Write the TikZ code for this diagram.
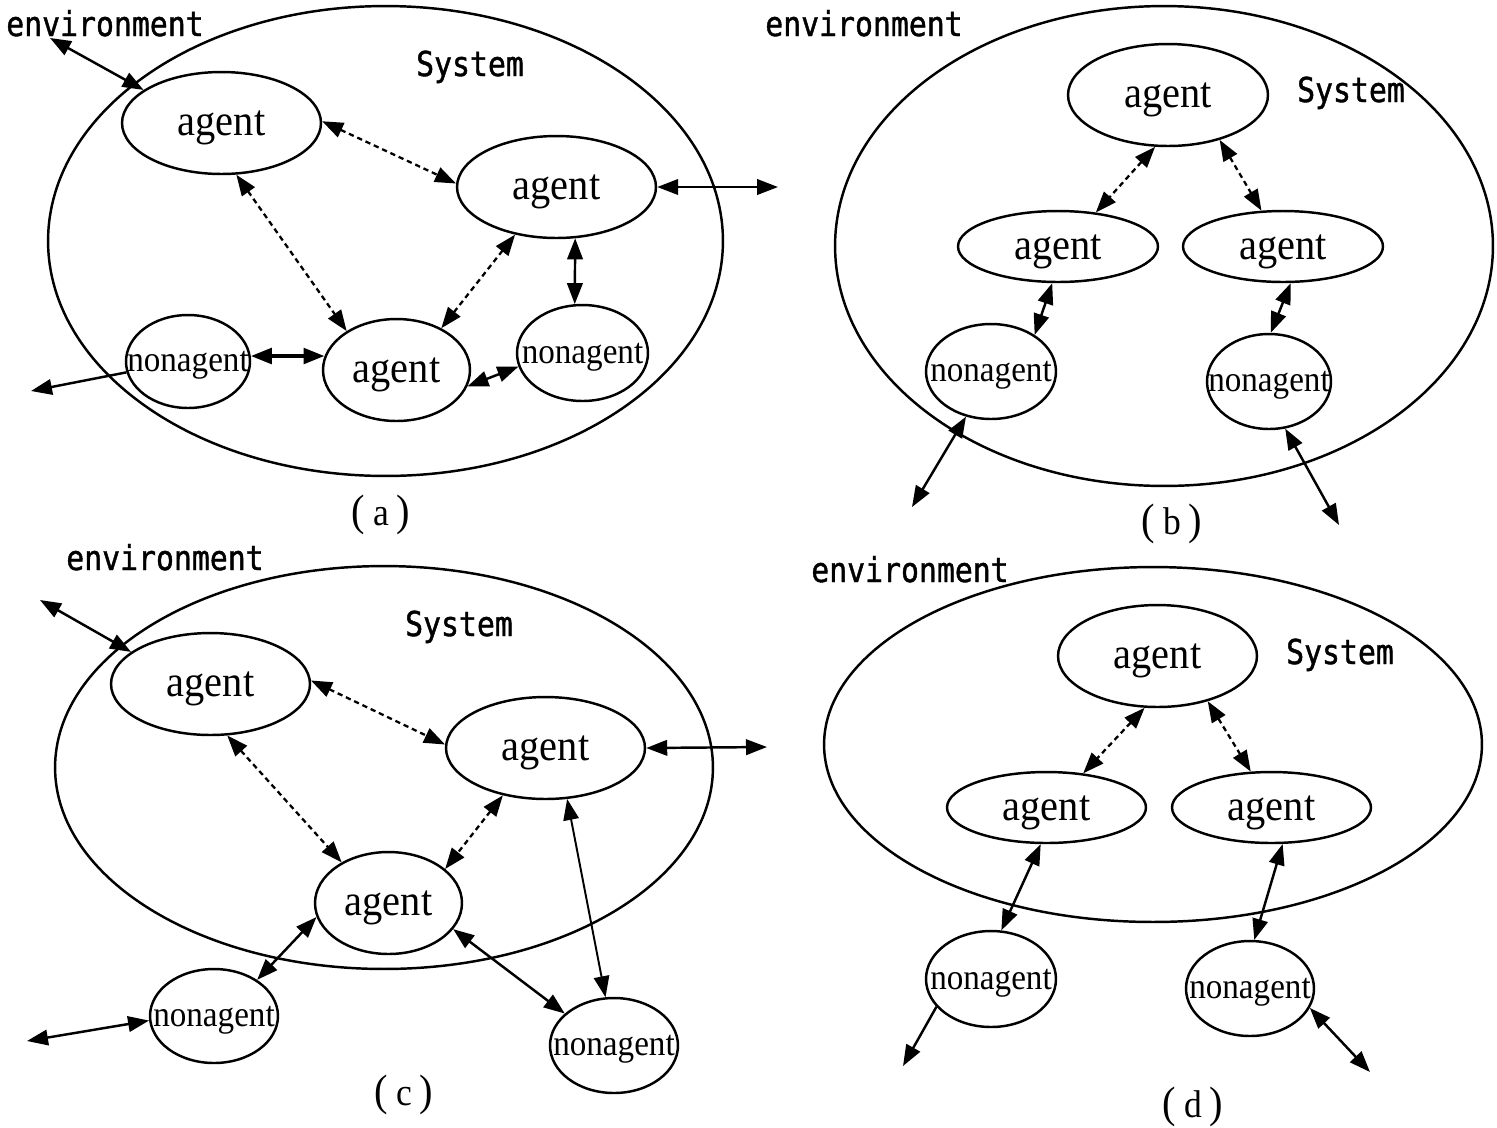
\documentclass[tikz,border=0pt]{standalone}
\usepackage{fontspec}
\usetikzlibrary{shapes.geometric,arrows.meta}
\newfontfamily\serifx[FakeStretch=0.92]{Liberation Serif}
\newfontfamily\monox[FakeStretch=0.87,FakeBold=1.2]{DejaVu Sans Mono}
\newcommand\agfont{\serifx\fontsize{25}{28}\selectfont}
\newcommand\nafont{\serifx\fontsize{20.5}{24}\selectfont}
\newcommand\envfont{\monox\fontsize{19.5}{23}\selectfont}
\newcommand\capfont{\serifx\fontsize{22}{26}\selectfont}
\newcommand\zw[1]{\makebox[0pt]{\raisebox{-0.29em}[0pt][0pt]{#1}}}
\newcommand\capl[1]{{\fontsize{25}{28}\selectfont(}\hspace{0.2em}#1\hspace{0.2em}{\fontsize{25}{28}\selectfont)}}
\tikzset{
  sysell/.style={ellipse, draw, line width=1.4pt, inner sep=0pt},
  ag/.style={ellipse, draw, line width=1.4pt, inner sep=0pt, font=\agfont},
  na/.style={ellipse, draw, line width=1.4pt, inner sep=0pt, font=\nafont},
  envtxt/.style={font=\envfont, anchor=base, inner sep=0pt},
  captxt/.style={font=\capfont, anchor=base, inner sep=0pt},
  link/.style={line width=1.4pt, <->},
  dlink/.style={line width=1.3pt, <->, dash pattern=on 3pt off 2.2pt},
  olink/.style={line width=1.4pt, ->},
}
\begin{document}
\begin{tikzpicture}[x=0.02cm, y=-0.02cm, >={Triangle[length=0.42cm,width=0.31cm]}]
\fill[white] (0,0) rectangle (1497,1127);
\useasboundingbox (0,0) rectangle (1497,1127);

% ---------------- (a) ----------------
\node[sysell, minimum width=13.5cm, minimum height=9.4cm] (SA) at (385.5,241) {};
\node[ag, minimum width=3.98cm, minimum height=2.04cm] (A1) at (221.5,123) {\zw{agent}};
\node[ag, minimum width=3.98cm, minimum height=2.04cm] (A2) at (556.5,187) {\zw{agent}};
\node[ag, minimum width=2.94cm, minimum height=2.04cm] (A3) at (396.5,370) {\zw{agent}};
\node[na, minimum width=2.48cm, minimum height=1.86cm] (N1) at (188,361.5) {\zw{nonagent}};
\node[na, minimum width=2.62cm, minimum height=1.92cm] (N2) at (582.5,353) {\zw{nonagent}};
\node[envtxt] (EA) at (105,36) {environment};
\node[envtxt] (SYA) at (470,76) {System};
\node[captxt] (LA) at (381,525) {\capl{a}};
\coordinate (ea1) at (50,38);
\coordinate (ea2) at (778,187);
\coordinate (ea3) at (31,391);
\draw[link] (ea1) -- (A1.157);
\draw[dlink] (A1.1) -- (A2.178);
\draw[dlink] (A1.286) -- (A3.142);
\draw[dlink] (A2.229) -- (A3.43);
\draw[link] (A2.290) -- (N2.99);
\draw[link] (A2.east) -- (ea2);
\draw[link, line width=2.2pt] (N1.5) -- (A3.169);
\draw[link] (A3.347) -- (N2.192);
\draw[olink] (N1.190) -- (ea3);

% ---------------- (b) ----------------
\node[sysell, minimum width=13.16cm, minimum height=9.6cm] (SB) at (1164,246) {};
\node[ag, minimum width=4.0cm, minimum height=2.04cm] (B1) at (1168,95) {\zw{agent}};
\node[ag, minimum width=4.0cm, minimum height=1.42cm] (B2) at (1058,246.5) {\zw{agent}};
\node[ag, minimum width=4.0cm, minimum height=1.42cm] (B3) at (1283,246.5) {\zw{agent}};
\node[na, minimum width=2.6cm, minimum height=1.9cm] (BN1) at (991,371.5) {\zw{nonagent}};
\node[na, minimum width=2.48cm, minimum height=1.9cm] (BN2) at (1269,381.5) {\zw{nonagent}};
\node[envtxt] (EB) at (864,36) {environment};
\node[envtxt] (SYB) at (1351,102) {System};
\node[captxt] (LB) at (1172,534) {\capl{b}};
\coordinate (bo1) at (912,507);
\coordinate (bo2) at (1339,525);
\draw[dlink] (B1.256) -- (B2.42);
\draw[dlink] (B1.319) -- (B3.121);
\draw[link] (B2.261) -- (BN1.40);
\draw[link] (B3.282) -- (BN2.88);
\draw[link] (BN1.241) -- (bo1);
\draw[link] (BN2.289) -- (bo2);

% ---------------- (c) ----------------
\node[sysell, minimum width=13.16cm, minimum height=8.06cm] (SC) at (384,767.5) {};
\node[ag, minimum width=3.98cm, minimum height=2.04cm] (C1) at (210.5,684) {\zw{agent}};
\node[ag, minimum width=3.98cm, minimum height=2.04cm] (C2) at (545.5,748) {\zw{agent}};
\node[ag, minimum width=2.94cm, minimum height=2.04cm] (C3) at (388.5,903) {\zw{agent}};
\node[na, minimum width=2.56cm, minimum height=1.88cm] (CN1) at (214,1016) {\zw{nonagent}};
\node[na, minimum width=2.56cm, minimum height=1.9cm] (CN2) at (614,1045.5) {\zw{nonagent}};
\node[envtxt] (EC) at (165,570) {environment};
\node[envtxt] (SYC) at (459,636) {System};
\node[captxt] (LC) at (404,1105) {\capl{c}};
\coordinate (ce1) at (40,600);
\coordinate (ce2) at (767,747);
\coordinate (ce3) at (27,1041);
\draw[link] (ce1) -- (C1.158);
\draw[dlink] (C1.2) -- (C2.178);
\draw[dlink] (C1.288) -- (C3.139);
\draw[dlink] (C2.228) -- (C3.31);
\draw[link, line width=1.1pt] (C2.293) -- (CN2.100);
\draw[link] (C2.east) -- (ce2);
\draw[link] (C3.191) -- (CN1.40);
\draw[link] (C3.338) -- (CN2.147);
\draw[link] (CN1.184) -- (ce3);

% ---------------- (d) ----------------
\node[sysell, minimum width=13.16cm, minimum height=7.1cm] (SD) at (1153,744.5) {};
\node[ag, minimum width=3.98cm, minimum height=2.04cm] (D1) at (1157.5,656) {\zw{agent}};
\node[ag, minimum width=3.98cm, minimum height=1.42cm] (D2) at (1046.5,807.5) {\zw{agent}};
\node[ag, minimum width=3.98cm, minimum height=1.42cm] (D3) at (1271.5,807.5) {\zw{agent}};
\node[na, minimum width=2.6cm, minimum height=1.92cm] (DN1) at (991,979) {\zw{nonagent}};
\node[na, minimum width=2.56cm, minimum height=1.9cm] (DN2) at (1250,988.5) {\zw{nonagent}};
\node[envtxt] (ED) at (910,582) {environment};
\node[envtxt] (SYD) at (1340,664) {System};
\node[captxt] (LD) at (1193,1117) {\capl{d}};
\coordinate (do1) at (903,1066);
\coordinate (do2) at (1370,1072);
\draw[dlink] (D1.256) -- (D2.43);
\draw[dlink] (D1.318) -- (D3.120);
\draw[link] (D2.261) -- (DN1.78);
\draw[link] (D3.287) -- (DN2.85);
\draw[olink] (DN1.207) -- (do1);
\draw[link] (DN2.342) -- (do2);
\end{tikzpicture}
\end{document}
